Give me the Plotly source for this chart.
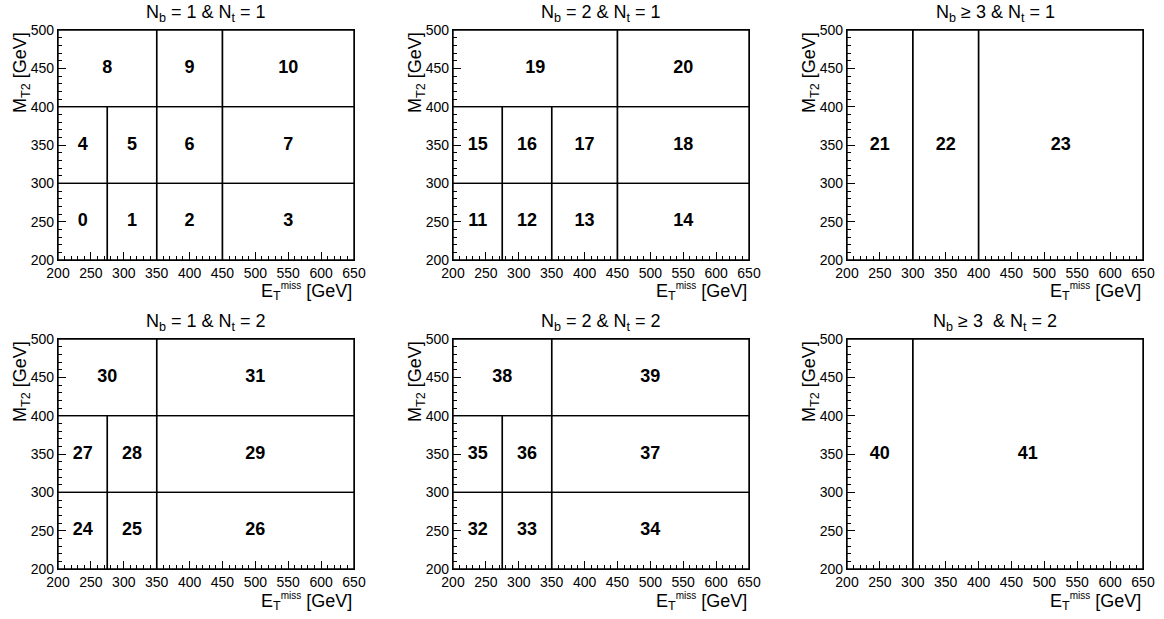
import plotly.graph_objects as go

# ---------------- data ----------------
x_range = [200, 650]
y_range = [200, 500]

panel_titles = [
    "N<sub>b</sub> = 1 & N<sub>t</sub> = 1",
    "N<sub>b</sub> = 2 & N<sub>t</sub> = 1",
    "N<sub>b</sub> ≥ 3 & N<sub>t</sub> = 1",
    "N<sub>b</sub> = 1 & N<sub>t</sub> = 2",
    "N<sub>b</sub> = 2 & N<sub>t</sub> = 2",
    "N<sub>b</sub> ≥ 3  & N<sub>t</sub> = 2",
]

# bins: (met_low, met_high, mt2_low, mt2_high, bin index)
bins_nb1_nt1 = [
    (200, 275, 200, 300, 0), (275, 350, 200, 300, 1), (350, 450, 200, 300, 2), (450, 650, 200, 300, 3),
    (200, 275, 300, 400, 4), (275, 350, 300, 400, 5), (350, 450, 300, 400, 6), (450, 650, 300, 400, 7),
    (200, 350, 400, 500, 8), (350, 450, 400, 500, 9), (450, 650, 400, 500, 10),
]
bins_nb2_nt1 = [
    (200, 275, 200, 300, 11), (275, 350, 200, 300, 12), (350, 450, 200, 300, 13), (450, 650, 200, 300, 14),
    (200, 275, 300, 400, 15), (275, 350, 300, 400, 16), (350, 450, 300, 400, 17), (450, 650, 300, 400, 18),
    (200, 450, 400, 500, 19), (450, 650, 400, 500, 20),
]
bins_nb3_nt1 = [
    (200, 300, 200, 500, 21), (300, 400, 200, 500, 22), (400, 650, 200, 500, 23),
]
bins_nb1_nt2 = [
    (200, 275, 200, 300, 24), (275, 350, 200, 300, 25), (350, 650, 200, 300, 26),
    (200, 275, 300, 400, 27), (275, 350, 300, 400, 28), (350, 650, 300, 400, 29),
    (200, 350, 400, 500, 30), (350, 650, 400, 500, 31),
]
bins_nb2_nt2 = [
    (200, 275, 200, 300, 32), (275, 350, 200, 300, 33), (350, 650, 200, 300, 34),
    (200, 275, 300, 400, 35), (275, 350, 300, 400, 36), (350, 650, 300, 400, 37),
    (200, 350, 400, 500, 38), (350, 650, 400, 500, 39),
]
bins_nb3_nt2 = [
    (200, 300, 200, 500, 40), (300, 650, 200, 500, 41),
]
panels = [bins_nb1_nt1, bins_nb2_nt1, bins_nb3_nt1, bins_nb1_nt2, bins_nb2_nt2, bins_nb3_nt2]

# ---------------- layout geometry ----------------
W, H = 1164, 619
col_px = [(58, 354), (453, 749), (847, 1143)]
row_px = [(30, 260), (339, 569)]
FONT = "Liberation Sans, Arial, Helvetica, sans-serif"

fig = go.Figure()
annotations = []
layout_axes = {}

for i, bins in enumerate(panels):
    r, c = divmod(i, 3)
    n = i + 1
    xa = "x" if n == 1 else f"x{n}"
    ya = "y" if n == 1 else f"y{n}"
    xs, ys = [], []
    for (x0, x1, y0, y1, lab) in bins:
        xs += [x0, x1, x1, x0, x0, None]
        ys += [y0, y0, y1, y1, y0, None]
    fig.add_trace(go.Scatter(x=xs, y=ys, mode="lines", xaxis=xa, yaxis=ya,
                             line=dict(color="black", width=1.4), hoverinfo="skip"))
    fig.add_trace(go.Scatter(
        x=[(b[0] + b[1]) / 2 for b in bins],
        y=[(b[2] + b[3]) / 2 for b in bins],
        text=[f"<b>{b[4]}</b>" for b in bins],
        mode="text", xaxis=xa, yaxis=ya, hoverinfo="skip",
        textposition="middle center",
        textfont=dict(family=FONT, size=18, color="black"),
    ))
    px0, px1 = col_px[c]
    py0, py1 = row_px[r]
    axis_common = dict(
        showgrid=False, zeroline=False, showline=True, mirror=True,
        linecolor="black", linewidth=1.4, ticks="inside", ticklen=8,
        tickcolor="black", tickwidth=1, tickfont=dict(family=FONT, size=14, color="black"),
        minor=dict(dtick=10, ticks="inside", ticklen=4, tickcolor="black", tickwidth=1),
        fixedrange=True, automargin=False,
    )
    layout_axes["xaxis" if n == 1 else f"xaxis{n}"] = dict(
        axis_common, domain=[px0 / W, px1 / W], range=x_range, tick0=200, dtick=50,
        anchor=ya,
    )
    layout_axes["yaxis" if n == 1 else f"yaxis{n}"] = dict(
        axis_common, domain=[1 - py1 / H, 1 - py0 / H], range=y_range, tick0=200, dtick=50,
        anchor=xa,
    )
    xd = f"{xa} domain"
    yd = f"{ya} domain"
    # panel title
    annotations.append(dict(text=panel_titles[i], xref=xd, yref=yd, x=0.5, y=1,
                            xanchor="center", yanchor="middle", yshift=17, showarrow=False,
                            font=dict(family=FONT, size=18, color="black")))
    # x-axis title
    annotations.append(dict(
        text="E<sub>T</sub><sup><span style='font-size:10px'>miss</span></sup> [GeV]",
        xref=xd, yref=yd, x=1, y=0, xanchor="right", yanchor="middle", yshift=-32,
        showarrow=False, font=dict(family=FONT, size=18, color="black")))
    # y-axis title
    annotations.append(dict(
        text="M<sub>T2</sub> [GeV]", textangle=-90,
        xref=xd, yref=yd, x=0, y=1, xanchor="left", yanchor="top", xshift=-50,
        showarrow=False, font=dict(family=FONT, size=18, color="black")))

fig.update_layout(
    width=W, height=H, margin=dict(l=0, r=0, t=0, b=0),
    paper_bgcolor="white", plot_bgcolor="white",
    showlegend=False, hovermode=False,
    annotations=annotations,
    **layout_axes,
)

# remove the default 8px page margin so the figure fills the window exactly
fig.write_html("out.html", config={"displayModeBar": False},
               post_script="document.body.style.margin='0px';")
